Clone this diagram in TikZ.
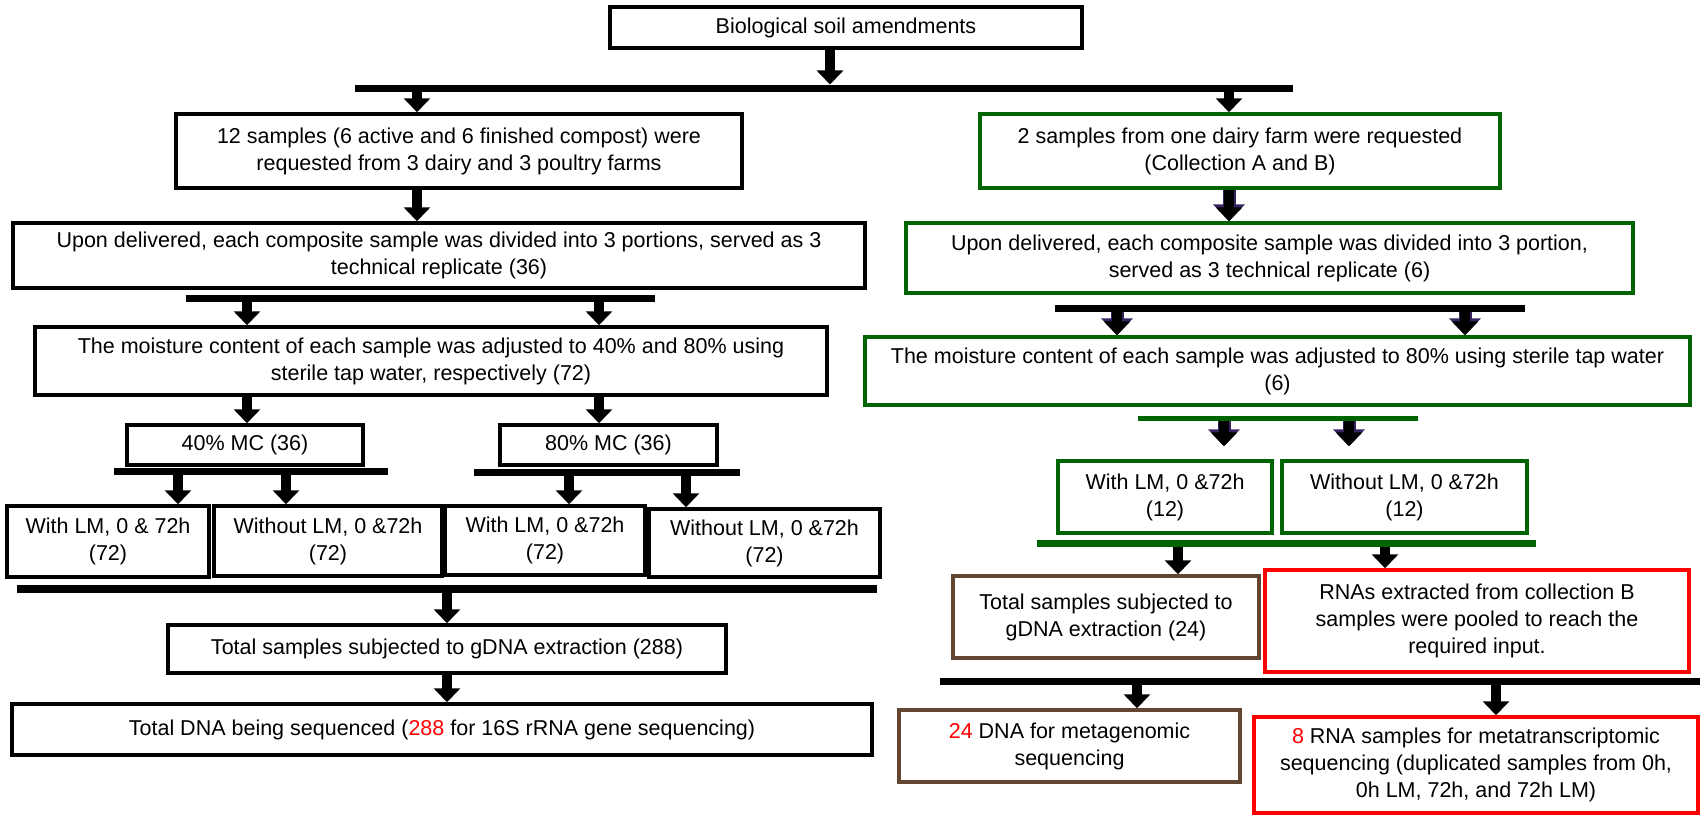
\documentclass[tikz,border=0pt]{standalone}
\usepackage{fontspec}
\setmainfont{Liberation Sans}
\usepackage{tikz}
\usetikzlibrary{arrows.meta}

\definecolor{boxgreen}{RGB}{0,100,0}
\definecolor{boxbrown}{RGB}{99,70,50}
\definecolor{arrowpurple}{RGB}{55,35,95}

\begin{document}
\begin{tikzpicture}[x=1pt, y=-1pt,
	box/.style={draw, line width=3.5pt, inner sep=0pt, align=center, font=\fontsize{21.5}{27}\selectfont},
	gbox/.style={box, draw=boxgreen},
	bbox/.style={box, draw=boxbrown},
	rbox/.style={box, draw=red},
	bar/.style={line width=7pt},
	arr/.style={line width=10pt, -{Triangle[width=26pt,length=14pt]}},
	parr/.style={arr, preaction={draw=arrowpurple, line width=13pt, -{Triangle[width=31pt,length=17pt]}}}]

	\useasboundingbox (0,0) rectangle (1700,816);

	\node[box, minimum width=472pt, minimum height=41pt] (top) at (846,27.5) {Biological soil amendments};
	\node[box, minimum width=566pt, minimum height=74pt] (l1) at (459,151) {12 samples (6 active and 6 finished compost) were\\requested from 3 dairy and 3 poultry farms};
	\node[box, minimum width=852pt, minimum height=65pt] (l2) at (439,255.5) {Upon delivered, each composite sample was divided into 3 portions, served as 3\\technical replicate (36)};
	\node[box, minimum width=792pt, minimum height=68pt] (l3) at (431,361) {The moisture content of each sample was adjusted to 40\% and 80\% using\\sterile tap water, respectively (72)};
	\node[box, minimum width=236pt, minimum height=40pt] (m40) at (245,445) {40\% MC (36)};
	\node[box, minimum width=217pt, minimum height=40pt] (m80) at (608.5,445) {80\% MC (36)};
	\node[box, minimum width=202pt, minimum height=71pt] (w1) at (108,541.5) {With LM, 0 \& 72h\\(72)};
	\node[box, minimum width=228pt, minimum height=70pt] (wo1) at (328,541) {Without LM, 0 \&72h\\(72)};
	\node[box, minimum width=200pt, minimum height=69pt] (w2) at (545,540.5) {With LM, 0 \&72h\\(72)};
	\node[box, minimum width=231pt, minimum height=68pt] (wo2) at (764.5,543) {Without LM, 0 \&72h\\(72)};
	\node[box, minimum width=558pt, minimum height=48pt] (g) at (447,649) {Total samples subjected to gDNA extraction (288)};
	\node[box, minimum width=860pt, minimum height=51pt] (dna) at (442,729.5) {Total DNA being sequenced ({\color{red}288} for 16S rRNA gene sequencing)};

	\node[gbox, minimum width=520pt, minimum height=74pt] (r1) at (1240,151) {2 samples from one dairy farm were requested\\(Collection A and B)};
	\node[gbox, minimum width=727pt, minimum height=70pt] (r2) at (1269.5,258) {Upon delivered, each composite sample was divided into 3 portion,\\served as 3 technical replicate (6)};
	\node[gbox, minimum width=825pt, minimum height=68pt] (r3) at (1277.5,371) {The moisture content of each sample was adjusted to 80\% using sterile tap water\\(6)};
	\node[gbox, minimum width=214pt, minimum height=72pt] (w3) at (1165,497) {With LM, 0 \&72h\\(12)};
	\node[gbox, minimum width=245pt, minimum height=72pt] (wo3) at (1404.5,497) {Without LM, 0 \&72h\\(12)};
	\node[bbox, minimum width=306pt, minimum height=82pt] (gd) at (1106,617) {Total samples subjected to\\gDNA extraction (24)};
	\node[rbox, minimum width=424pt, minimum height=102pt] (rna) at (1477,621) {RNAs extracted from collection B\\samples were pooled to reach the\\required input.};
	\node[bbox, minimum width=341pt, minimum height=72pt] (dm) at (1069.5,746) {{\color{red}24} DNA for metagenomic\\sequencing};
	\node[rbox, minimum width=444pt, minimum height=96pt] (rm) at (1476,765) {{\color{red}8} RNA samples for metatranscriptomic\\sequencing (duplicated samples from 0h,\\0h LM, 72h, and 72h LM)};

	\coordinate (k0) at (830,84.5);
	\coordinate (k1) at (417,88);
	\coordinate (k2) at (1229,88);
	\coordinate (k3) at (247,298.5);
	\coordinate (k4) at (599,298.5);
	\coordinate (k5) at (178,471.5);
	\coordinate (k6) at (286,471.5);
	\coordinate (k7) at (569,472.5);
	\coordinate (k8) at (686,472.5);
	\coordinate (k9) at (447,589);
	\coordinate (k10) at (1117,308);
	\coordinate (k11) at (1465,308);
	\coordinate (k12) at (1224,418.5);
	\coordinate (k13) at (1349,418.5);
	\coordinate (k14) at (1178,543.5);
	\coordinate (k15) at (1385,543.5);
	\coordinate (k16) at (1137,681.5);
	\coordinate (k17) at (1496,681.5);

	\draw[arr] (top.south -| k0) -- (k0);
	\draw[arr] (k1) -- (l1.north -| k1);
	\draw[arr] (k2) -- (r1.north -| k2);
	\draw[arr] (l1.south -| k1) -- (l2.north -| k1);
	\draw[arr] (k3) -- (l3.north -| k3);
	\draw[arr] (k4) -- (l3.north -| k4);
	\draw[arr] (l3.south -| k3) -- (m40.north -| k3);
	\draw[arr] (l3.south -| k4) -- (m80.north -| k4);
	\draw[arr] (k5) -- (w1.north -| k5);
	\draw[arr] (k6) -- (wo1.north -| k6);
	\draw[arr] (k7) -- (w2.north -| k7);
	\draw[arr] (k8) -- (wo2.north -| k8);
	\draw[arr] (k9) -- (g.north -| k9);
	\draw[arr] (g.south -| k9) -- (dna.north -| k9);

	\draw[parr] (r1.south -| k2) -- (r2.north -| k2);
	\draw[parr] (k10) -- (r3.north -| k10);
	\draw[parr] (k11) -- (r3.north -| k11);
	\draw[parr, shorten >=13pt] (k12) -- (w3.north -| k12);
	\draw[parr, shorten >=13pt] (k13) -- (wo3.north -| k13);
	\draw[arr] (k14) -- (gd.north -| k14);
	\draw[arr] (k15) -- (rna.north -| k15);
	\draw[arr] (k16) -- (dm.north -| k16);
	\draw[arr] (k17) -- (rm.north -| k17);

	\draw[bar] (355,88) -- (1293,88);
	\draw[bar] (186,298.5) -- (655,298.5);
	\draw[bar] (114,471.5) -- (388,471.5);
	\draw[bar] (474,472.5) -- (740,472.5);
	\draw[bar, line width=8pt] (17,589) -- (877,589);
	\draw[bar] (1055,308) -- (1525,308);
	\draw[bar, boxgreen, line width=5pt] (1138,418.5) -- (1418,418.5);
	\draw[bar, boxgreen] (1037,543.5) -- (1536,543.5);
	\draw[bar] (940,681.5) -- (1700,681.5);
\end{tikzpicture}
\end{document}
